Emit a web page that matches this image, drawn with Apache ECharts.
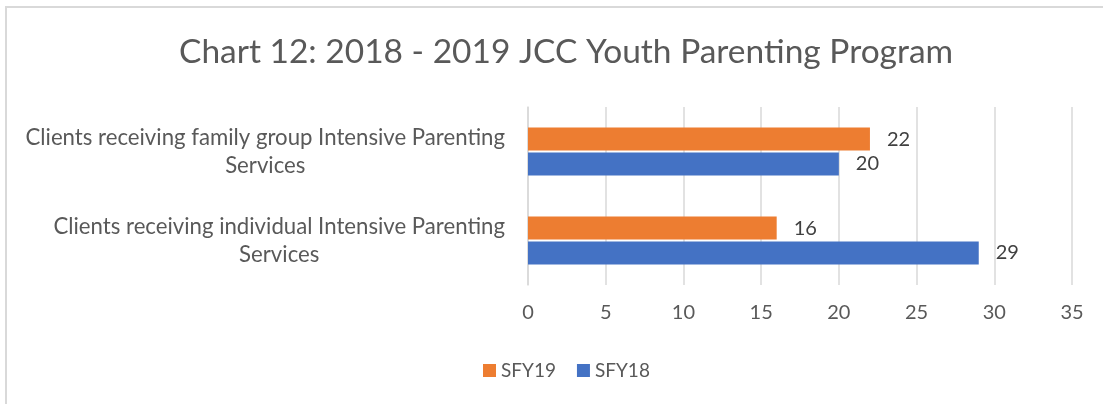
<!DOCTYPE html>
<html>
<head>
<meta charset="utf-8">
<script src="https://cdn.jsdelivr.net/npm/echarts@6/dist/echarts.min.js"></script>
<style>
  html, body { margin: 0; padding: 0; background: #fff; }
  #chart { width: 1103px; height: 404px; }
</style>
</head>
<body>
<div id="chart"></div>
<script>
// categories, bottom to top
const categories = [
  "Clients receiving individual Intensive Parenting Services",
  "Clients receiving family group Intensive Parenting Services"
]
const sfy18 = [29, 20]
const sfy19 = [16, 22]
const legendOrder = ["SFY19", "SFY18"]

const font = "Lato, 'Open Sans', sans-serif"

let option = {
  textStyle: { fontFamily: font },
  title: {
    text: "Chart 12: 2018 - 2019 JCC Youth Parenting Program",
    left: 174,
    top: 30,
    textStyle: {
      fontFamily: font,
      fontSize: 33.5,
      fontWeight: "normal",
      color: "#595959"
    }
  },
  // chart border (top and left only visible)
  graphic: [
    { type: "rect", shape: { x: 6, y: 7, width: 1200, height: 500 },
      style: { fill: "none", stroke: "#d9d9d9", lineWidth: 2 }, silent: true }
  ],
  legend: {
    data: legendOrder,
    top: 356,
    left: 478,
    itemWidth: 13,
    itemHeight: 13,
    itemGap: 21,
    icon: "rect",
    textStyle: { fontFamily: font, fontSize: 19, color: "#595959" }
  },
  grid: {
    left: 528,
    right: 31,
    top: 107,
    bottom: 119,
    containLabel: false
  },
  xAxis: {
    type: "value",
    min: 0,
    max: 35,
    interval: 5,
    axisLine: { show: false },
    axisTick: { show: false },
    axisLabel: { fontFamily: font, fontSize: 20, color: "#595959", margin: 18 },
    splitLine: { lineStyle: { color: "#d9d9d9", width: 1.5 } }
  },
  yAxis: {
    type: "category",
    data: categories,
    axisTick: { show: false },
    axisLine: { show: true, lineStyle: { color: "#d9d9d9", width: 1.5 } },
    axisLabel: {
      margin: 23,
      formatter: value => value.replace(" Services", "\nServices").split("\n").map(l => "{c|" + l + "}").join("\n"),
      rich: {
        c: { align: "center", fontFamily: font, fontSize: 22.2, color: "#595959", lineHeight: 28 }
      }
    }
  },
  series: [
    {
      name: "SFY19",
      type: "bar",
      data: sfy19,
      barWidth: 23,
      barGap: "8%",
      itemStyle: { color: "#ed7d31" },
      label: { show: true, position: "right", distance: 17, fontFamily: font, fontSize: 20, color: "#404040" }
    },
    {
      name: "SFY18",
      type: "bar",
      data: sfy18,
      barWidth: 23,
      barGap: "8%",
      itemStyle: { color: "#4472c4" },
      label: { show: true, position: "right", distance: 17, fontFamily: font, fontSize: 20, color: "#404040" }
    }
  ]
}

const chartEl = echarts.init(document.getElementById("chart"))
chartEl.setOption(option)
</script>
</body>
</html>
